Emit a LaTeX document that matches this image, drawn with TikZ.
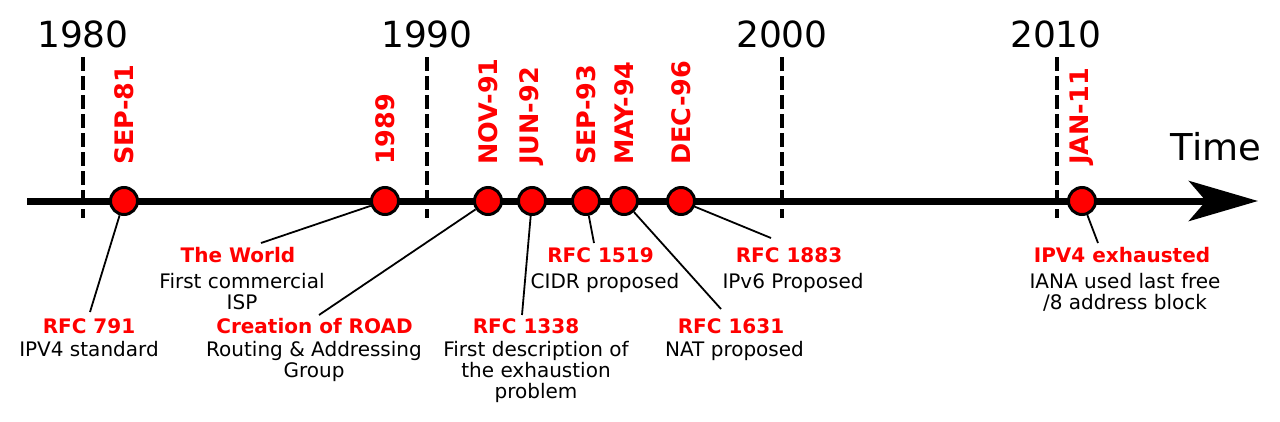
\documentclass[tikz,border=0pt]{standalone}
\usepackage{fontspec}
\setmainfont{DejaVu Sans}
\usetikzlibrary{arrows.meta}
\definecolor{evred}{RGB}{255,0,0}
\begin{document}
\begin{tikzpicture}[x=1pt,y=-1pt,
  yearlbl/.style={font=\fontsize{36}{40}\selectfont, anchor=base, inner sep=0},
  datelbl/.style={font=\fontsize{25.5}{27}\selectfont\bfseries, text=evred, rotate=90, anchor=west, inner sep=0},
  evdot/.style={circle, draw=black, line width=3pt, fill=evred, minimum size=27pt, inner sep=0},
  evtitle/.style={font=\fontsize{20}{21}\selectfont\bfseries, text=evred, anchor=base, inner sep=0},
  evdesc/.style={font=\fontsize{20}{21}\selectfont, align=center, anchor=base, inner sep=0},
  decade/.style={line width=3.5pt, dash pattern=on 14pt off 5pt},
  conn/.style={line width=1.8pt},
  axisline/.style={line width=7pt, -{Stealth[length=69pt,width=40pt,inset=17pt]}}
]
\useasboundingbox (0,0) rectangle (1280,421);

% decade markers
\coordinate (d80a) at (83,57);   \coordinate (d80b) at (83,218);
\coordinate (d90a) at (427,57);  \coordinate (d90b) at (427,218);
\coordinate (d00a) at (782,57);  \coordinate (d00b) at (782,218);
\coordinate (d10a) at (1057,57); \coordinate (d10b) at (1057,218);
\draw[decade] (d80a) -- (d80b);
\draw[decade] (d90a) -- (d90b);
\draw[decade] (d00a) -- (d00b);
\draw[decade] (d10a) -- (d10b);
\node[yearlbl] (y80) at (83,47) {1980};
\node[yearlbl] (y90) at (427,47) {1990};
\node[yearlbl] (y00) at (782,47) {2000};
\node[yearlbl] (y10) at (1056,47) {2010};

% axis
\coordinate (axs) at (27,201);
\coordinate (axe) at (1258,201);
\draw[axisline] (axs) -- (axe);
\node[font=\fontsize{37}{40}\selectfont, anchor=base, inner sep=0] (time) at (1216,160) {Time};

% events: dots
\node[evdot] (c81) at (124,201) {};
\node[evdot] (c89) at (385,201) {};
\node[evdot] (c91) at (488,201) {};
\node[evdot] (c92) at (532,201) {};
\node[evdot] (c93) at (586,201) {};
\node[evdot] (c94) at (624,201) {};
\node[evdot] (c96) at (681,201) {};
\node[evdot] (c11) at (1082,201) {};

% dates
\node[datelbl] (l81) at (124,165) {SEP-81};
\node[datelbl] (l89) at (385,165) {1989};
\node[datelbl] (l91) at (488,165) {NOV-91};
\node[datelbl] (l92) at (532,165) {JUN-92};
\node[datelbl] (l93) at (586,165) {SEP-93};
\node[datelbl] (l94) at (624,165) {MAY-94};
\node[datelbl] (l96) at (681,165) {DEC-96};
\node[datelbl] (l11) at (1082,165) {JAN-11};

% titles
\node[evtitle] (t81) at (89,333) {RFC 791};
\node[evtitle] (t89) at (238,262) {The World};
\node[evtitle] (t91) at (314.5,333) {Creation of ROAD};
\node[evtitle] (t92) at (526,333) {RFC 1338};
\node[evtitle] (t93) at (600.5,262) {RFC 1519};
\node[evtitle] (t94) at (731,333) {RFC 1631};
\node[evtitle] (t96) at (789,262) {RFC 1883};
\node[evtitle] (t11) at (1122,262) {IPV4 exhausted};

% descriptions (base = baseline of the last line)
\node[evdesc] (s81) at (89,356) {IPV4 standard};
\node[evdesc] (s89) at (242,309) {First commercial\\ISP};
\node[evdesc] (s91) at (314,377) {Routing \& Addressing\\Group};
\node[evdesc] (s92) at (536,398) {First description of\\the exhaustion\\problem};
\node[evdesc] (s93) at (605,288) {CIDR proposed};
\node[evdesc] (s94) at (734.5,356) {NAT proposed};
\node[evdesc] (s96) at (793,288) {IPv6 Proposed};
\node[evdesc] (s11) at (1125,309) {IANA used last free\\/8 address block};

% connector ends
\coordinate (e81) at (90,312);
\coordinate (e89) at (261,243);
\coordinate (e91) at (319,315);
\coordinate (e92) at (522,315);
\coordinate (e93) at (594,243);
\coordinate (e94) at (721,309);
\coordinate (e96) at (771,238);
\coordinate (e11) at (1098,243);

\draw[conn] (c81) -- (e81);
\draw[conn] (c89) -- (e89);
\draw[conn] (c91) -- (e91);
\draw[conn] (c92) -- (e92);
\draw[conn] (c93) -- (e93);
\draw[conn] (c94) -- (e94);
\draw[conn] (c96) -- (e96);
\draw[conn] (c11) -- (e11);
\end{tikzpicture}
\end{document}
